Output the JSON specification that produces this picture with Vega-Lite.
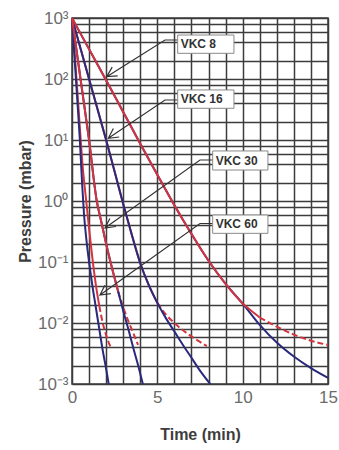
{
  "$schema": "https://vega.github.io/schema/vega-lite/v6.json",
  "width": 256,
  "height": 366,
  "autosize": {"type": "none"},
  "padding": {"left": 72, "top": 18, "right": 11, "bottom": 66},
  "background": "white",
  "config": {"view": {"stroke": "#3c3c3c", "strokeWidth": 1.5}, "font": "Liberation Sans"},
  "datasets": {
    "curves": [
      {"s":"VKC 8","k":"b","t":0,"p":1000},{"s":"VKC 8","k":"b","t":1,"p":309},{"s":"VKC 8","k":"b","t":2,"p":95.5},{"s":"VKC 8","k":"b","t":3,"p":28.84},{"s":"VKC 8","k":"b","t":4,"p":8.71},{"s":"VKC 8","k":"b","t":5,"p":2.692},{"s":"VKC 8","k":"b","t":6,"p":0.8511},{"s":"VKC 8","k":"b","t":7,"p":0.2884},{"s":"VKC 8","k":"b","t":8,"p":0.1047},{"s":"VKC 8","k":"b","t":9,"p":0.04365},{"s":"VKC 8","k":"b","t":10,"p":0.02089},{"s":"VKC 8","k":"b","t":11,"p":0.009333},{"s":"VKC 8","k":"b","t":12,"p":0.004786},{"s":"VKC 8","k":"b","t":13,"p":0.002818},{"s":"VKC 8","k":"b","t":14,"p":0.00182},{"s":"VKC 8","k":"b","t":15,"p":0.001259},
      {"s":"VKC 8","k":"r","t":0,"p":1000},{"s":"VKC 8","k":"r","t":1,"p":309},{"s":"VKC 8","k":"r","t":2,"p":95.5},{"s":"VKC 8","k":"r","t":3,"p":28.84},{"s":"VKC 8","k":"r","t":4,"p":8.71},{"s":"VKC 8","k":"r","t":5,"p":2.692},{"s":"VKC 8","k":"r","t":6,"p":0.8511},{"s":"VKC 8","k":"r","t":7,"p":0.2884},{"s":"VKC 8","k":"r","t":8,"p":0.1047},{"s":"VKC 8","k":"r","t":9,"p":0.04365},{"s":"VKC 8","k":"r","t":10,"p":0.02089},{"s":"VKC 8","k":"r","t":10.5,"p":0.01585},{"s":"VKC 8","k":"r","t":11,"p":0.0123},
      {"s":"VKC 8","k":"d","t":11,"p":0.0123},{"s":"VKC 8","k":"d","t":12,"p":0.00871},{"s":"VKC 8","k":"d","t":13,"p":0.006457},{"s":"VKC 8","k":"d","t":14,"p":0.005129},{"s":"VKC 8","k":"d","t":15,"p":0.004365},
      {"s":"VKC 16","k":"b","t":0,"p":1000},{"s":"VKC 16","k":"b","t":1,"p":100},{"s":"VKC 16","k":"b","t":2,"p":10},{"s":"VKC 16","k":"b","t":2.5,"p":3.02},{"s":"VKC 16","k":"b","t":3,"p":0.8913},{"s":"VKC 16","k":"b","t":3.5,"p":0.2818},{"s":"VKC 16","k":"b","t":4,"p":0.0955},{"s":"VKC 16","k":"b","t":4.5,"p":0.04169},{"s":"VKC 16","k":"b","t":5,"p":0.02138},{"s":"VKC 16","k":"b","t":5.5,"p":0.01202},{"s":"VKC 16","k":"b","t":6,"p":0.007244},{"s":"VKC 16","k":"b","t":6.5,"p":0.004365},{"s":"VKC 16","k":"b","t":7,"p":0.002692},{"s":"VKC 16","k":"b","t":7.5,"p":0.00166},{"s":"VKC 16","k":"b","t":8.1,"p":0.001},
      {"s":"VKC 16","k":"r","t":0,"p":1000},{"s":"VKC 16","k":"r","t":1,"p":100},{"s":"VKC 16","k":"r","t":2,"p":10},{"s":"VKC 16","k":"r","t":2.5,"p":3.02},{"s":"VKC 16","k":"r","t":3,"p":0.8913},{"s":"VKC 16","k":"r","t":3.5,"p":0.2818},{"s":"VKC 16","k":"r","t":4,"p":0.0955},{"s":"VKC 16","k":"r","t":4.5,"p":0.04169},{"s":"VKC 16","k":"r","t":5,"p":0.02138},
      {"s":"VKC 16","k":"d","t":5,"p":0.02138},{"s":"VKC 16","k":"d","t":5.5,"p":0.0138},{"s":"VKC 16","k":"d","t":6,"p":0.01},{"s":"VKC 16","k":"d","t":6.5,"p":0.007586},{"s":"VKC 16","k":"d","t":7,"p":0.006026},{"s":"VKC 16","k":"d","t":7.5,"p":0.004898},{"s":"VKC 16","k":"d","t":7.9,"p":0.004169},
      {"s":"VKC 30","k":"b","t":0,"p":1000},{"s":"VKC 30","k":"b","t":0.5,"p":100},{"s":"VKC 30","k":"b","t":1,"p":10},{"s":"VKC 30","k":"b","t":1.45,"p":1},{"s":"VKC 30","k":"b","t":1.7,"p":0.4786},{"s":"VKC 30","k":"b","t":2,"p":0.1995},{"s":"VKC 30","k":"b","t":2.3,"p":0.08913},{"s":"VKC 30","k":"b","t":2.7,"p":0.03311},{"s":"VKC 30","k":"b","t":3,"p":0.01585},{"s":"VKC 30","k":"b","t":3.3,"p":0.007943},{"s":"VKC 30","k":"b","t":3.6,"p":0.003802},{"s":"VKC 30","k":"b","t":3.9,"p":0.001905},{"s":"VKC 30","k":"b","t":4.15,"p":0.001},
      {"s":"VKC 30","k":"r","t":0,"p":1000},{"s":"VKC 30","k":"r","t":0.5,"p":100},{"s":"VKC 30","k":"r","t":1,"p":10},{"s":"VKC 30","k":"r","t":1.45,"p":1},{"s":"VKC 30","k":"r","t":1.7,"p":0.4786},{"s":"VKC 30","k":"r","t":2,"p":0.1995},{"s":"VKC 30","k":"r","t":2.3,"p":0.08913},{"s":"VKC 30","k":"r","t":2.7,"p":0.03311},
      {"s":"VKC 30","k":"d","t":2.7,"p":0.03311},{"s":"VKC 30","k":"d","t":3,"p":0.0182},{"s":"VKC 30","k":"d","t":3.3,"p":0.01072},{"s":"VKC 30","k":"d","t":3.6,"p":0.006761},{"s":"VKC 30","k":"d","t":3.87,"p":0.004365},
      {"s":"VKC 60","k":"b","t":0,"p":1000},{"s":"VKC 60","k":"b","t":0.15,"p":223.9},{"s":"VKC 60","k":"b","t":0.3,"p":50.12},{"s":"VKC 60","k":"b","t":0.45,"p":11.22},{"s":"VKC 60","k":"b","t":0.6,"p":1.778},{"s":"VKC 60","k":"b","t":0.7,"p":0.631},{"s":"VKC 60","k":"b","t":0.85,"p":0.2239},{"s":"VKC 60","k":"b","t":1,"p":0.1},{"s":"VKC 60","k":"b","t":1.2,"p":0.03981},{"s":"VKC 60","k":"b","t":1.4,"p":0.01778},{"s":"VKC 60","k":"b","t":1.6,"p":0.007943},{"s":"VKC 60","k":"b","t":1.8,"p":0.003548},{"s":"VKC 60","k":"b","t":2,"p":0.001778},{"s":"VKC 60","k":"b","t":2.15,"p":0.001},
      {"s":"VKC 60","k":"r","t":0,"p":1000},{"s":"VKC 60","k":"r","t":0.2,"p":177.8},{"s":"VKC 60","k":"r","t":0.4,"p":28.18},{"s":"VKC 60","k":"r","t":0.6,"p":4.467},{"s":"VKC 60","k":"r","t":0.86,"p":0.8511},{"s":"VKC 60","k":"r","t":1,"p":0.3548},{"s":"VKC 60","k":"r","t":1.2,"p":0.1122},{"s":"VKC 60","k":"r","t":1.4,"p":0.04169},{"s":"VKC 60","k":"r","t":1.6,"p":0.01905},
      {"s":"VKC 60","k":"d","t":1.6,"p":0.01905},{"s":"VKC 60","k":"d","t":1.8,"p":0.01},{"s":"VKC 60","k":"d","t":2,"p":0.00631},{"s":"VKC 60","k":"d","t":2.15,"p":0.004786},{"s":"VKC 60","k":"d","t":2.3,"p":0.003802}
    ],
    "arrows": [
      {"s":"VKC 8","o":1,"t":2.677,"p":112.4},{"s":"VKC 8","o":2,"t":2.033,"p":109.1},{"s":"VKC 8","o":3,"t":2.355,"p":156.7},{"s":"VKC 8","o":4,"t":2.033,"p":109.1},{"s":"VKC 8","o":5,"t":5.448,"p":435.6},{"s":"VKC 8","o":6,"t":6.192,"p":435.6},
      {"s":"VKC 16","o":1,"t":2.765,"p":11.2},{"s":"VKC 16","o":2,"t":2.127,"p":10.67},{"s":"VKC 16","o":3,"t":2.425,"p":15.45},{"s":"VKC 16","o":4,"t":2.127,"p":10.67},{"s":"VKC 16","o":5,"t":5.448,"p":45.3},{"s":"VKC 16","o":6,"t":6.192,"p":45.3},
      {"s":"VKC 30","o":1,"t":2.572,"p":0.382},{"s":"VKC 30","o":2,"t":1.933,"p":0.3605},{"s":"VKC 30","o":3,"t":2.22,"p":0.516},{"s":"VKC 30","o":4,"t":1.933,"p":0.3605},{"s":"VKC 30","o":5,"t":7.499,"p":4.7},{"s":"VKC 30","o":6,"t":8.243,"p":4.7},
      {"s":"VKC 60","o":1,"t":2.279,"p":0.03034},{"s":"VKC 60","o":2,"t":1.64,"p":0.02877},{"s":"VKC 60","o":3,"t":1.927,"p":0.04169},{"s":"VKC 60","o":4,"t":1.64,"p":0.02877},{"s":"VKC 60","o":5,"t":7.499,"p":0.4276},{"s":"VKC 60","o":6,"t":8.243,"p":0.4276}
    ],
    "boxes": [
      {"s":"VKC 8","t":6.192,"t2":9.49,"p":263.6,"p2":526},
      {"s":"VKC 16","t":6.192,"t2":9.49,"p":33.1,"p2":66.1},
      {"s":"VKC 30","t":8.243,"t2":11.48,"p":3.22,"p2":6.61},
      {"s":"VKC 60","t":8.243,"t2":11.48,"p":0.295,"p2":0.589}
    ]
  },
  "encoding": {
    "x": {
      "field": "t", "type": "quantitative",
      "scale": {"domain": [0, 15], "nice": false, "zero": false},
      "axis": {
        "values": [0,1,2,3,4,5,6,7,8,9,10,11,12,13,14,15],
        "grid": true, "gridColor": "#3c3c3c", "gridWidth": 1.5, "gridOpacity": 1,
        "ticks": false, "domain": false,
        "labelExpr": "datum.value % 5 == 0 ? datum.label : ''",
        "labelFlush": false, "labelOverlap": false,
        "labelFontSize": 17, "labelColor": "#6b6b6b", "labelPadding": 5, "labelFont": "Liberation Sans",
        "title": "Time (min)", "titleFontSize": 16, "titleFontWeight": "bold", "titleColor": "#3d3d3d", "titlePadding": 21, "titleFont": "Liberation Sans"
      }
    },
    "y": {
      "field": "p", "type": "quantitative",
      "scale": {"type": "log", "domain": [0.001, 1000], "nice": false},
      "axis": {
        "values": [0.001,0.002,0.004,0.006,0.008,0.01,0.02,0.04,0.06,0.08,0.1,0.2,0.4,0.6,0.8,1,2,4,6,8,10,20,40,60,80,100,200,400,600,800,1000],
        "grid": true, "gridColor": "#3c3c3c", "gridWidth": 1.5, "gridOpacity": 1,
        "ticks": false, "domain": false,
        "labelExpr": "abs(log(datum.value)/LN10 - round(log(datum.value)/LN10)) > 0.01 ? '' : round(log(datum.value)/LN10) == 3 ? '10³' : round(log(datum.value)/LN10) == 2 ? '10²' : round(log(datum.value)/LN10) == 1 ? '10¹' : round(log(datum.value)/LN10) == 0 ? '10⁰' : round(log(datum.value)/LN10) == -1 ? '10⁻¹' : round(log(datum.value)/LN10) == -2 ? '10⁻²' : '10⁻³'",
        "labelFlush": false, "labelOverlap": false,
        "labelFontSize": 17, "labelColor": "#6b6b6b", "labelPadding": 4, "labelFont": "Liberation Sans",
        "title": "Pressure (mbar)", "titleFontSize": 16, "titleFontWeight": "bold", "titleColor": "#3d3d3d", "titlePadding": 4, "titleFont": "Liberation Sans"
      }
    }
  },
  "layer": [
    {
      "data": {"name": "curves"},
      "transform": [{"filter": "datum.k == 'r' && (datum.s == 'VKC 16' || datum.s == 'VKC 60')"}],
      "mark": {"type": "line", "color": "#d2353f", "strokeWidth": 2, "interpolate": "monotone"},
      "encoding": {"detail": {"field": "s"}}
    },
    {
      "data": {"name": "curves"},
      "transform": [{"filter": "datum.k == 'd'"}],
      "mark": {"type": "line", "color": "#d2353f", "strokeWidth": 2, "strokeDash": [6, 3], "interpolate": "monotone"},
      "encoding": {"detail": {"field": "s"}}
    },
    {
      "data": {"name": "curves"},
      "transform": [{"filter": "datum.k == 'b'"}],
      "mark": {"type": "line", "color": "#2a2a7c", "strokeWidth": 2, "interpolate": "monotone"},
      "encoding": {"detail": {"field": "s"}}
    },
    {
      "data": {"name": "curves"},
      "transform": [{"filter": "datum.k == 'r' && (datum.s == 'VKC 8' || datum.s == 'VKC 30')"}],
      "mark": {"type": "line", "color": "#d2353f", "strokeWidth": 2, "interpolate": "monotone"},
      "encoding": {"detail": {"field": "s"}}
    },
    {
      "data": {"name": "arrows"},
      "mark": {"type": "line", "color": "#333333", "strokeWidth": 1.2},
      "encoding": {"detail": {"field": "s"}, "order": {"field": "o", "type": "quantitative"}}
    },
    {
      "data": {"name": "boxes"},
      "mark": {"type": "rect", "fill": "white", "stroke": "#8a8a8a", "strokeWidth": 1},
      "encoding": {"x2": {"field": "t2"}, "y2": {"field": "p2"}}
    },
    {
      "data": {"name": "boxes"},
      "mark": {"type": "text", "align": "left", "baseline": "middle", "dx": 3, "dy": -9, "fontSize": 12, "fontWeight": "bold", "color": "#333333", "font": "Liberation Sans"},
      "encoding": {"text": {"field": "s"}}
    }
  ]
}
